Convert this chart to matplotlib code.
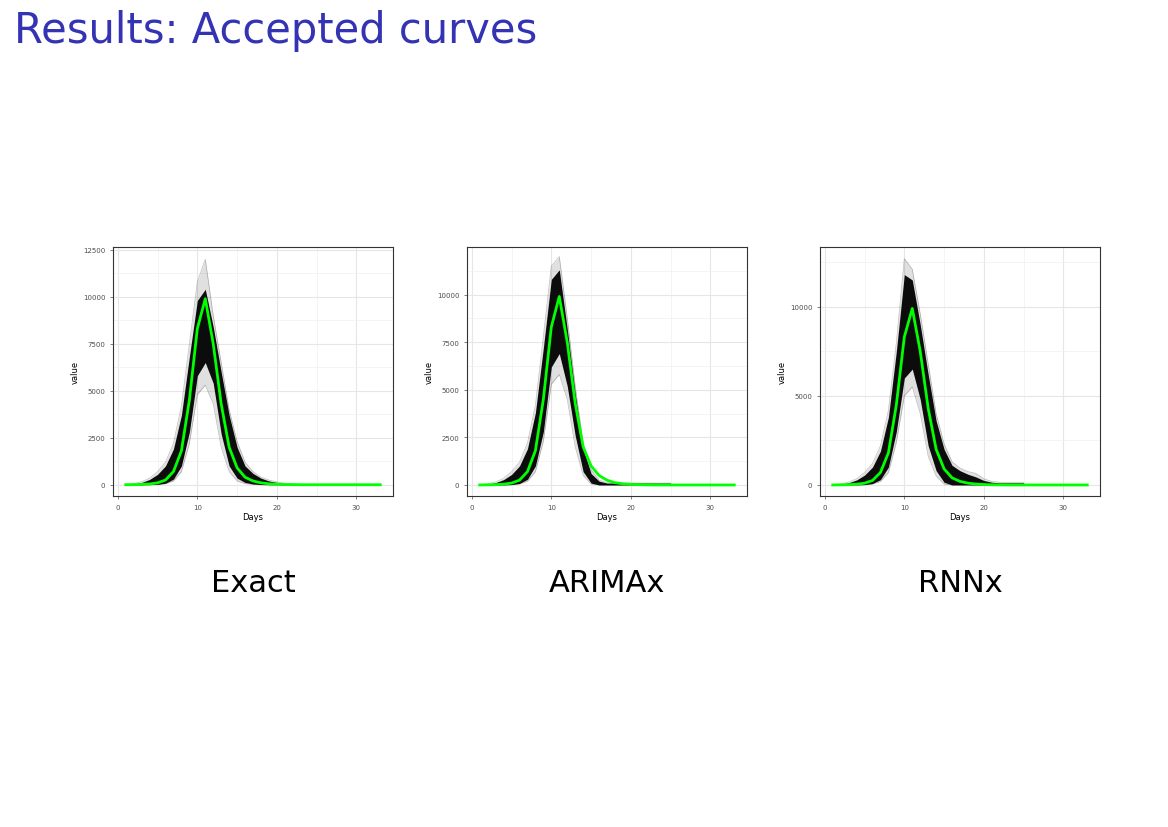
import numpy as np
import matplotlib.pyplot as plt

# day index shared by all curves
days = list(range(1, 34))

# reference (green) curve
green = [0, 5, 15, 40, 100, 250, 700, 1800, 4500, 8300, 9900, 7500, 4300, 2000, 900,
         400, 200, 100, 50, 25, 10, 5, 0, 0, 0, 0, 0, 0, 0, 0, 0, 0, 0]
green_arima = [0, 5, 15, 40, 100, 250, 700, 1800, 4500, 8300, 9900, 7500, 4300, 2000, 1000,
               500, 250, 120, 60, 30, 15, 5, 0, 0, 0, 0, 0, 0, 0, 0, 0, 0, 0]

# accepted-curve envelopes (core band and faint outliers)
exact_days = list(range(1, 26))
exact_lo = [0, 0, 0, 5, 20, 80, 300, 1000, 2800, 5800, 6500, 5400, 2700, 1000, 350,
            120, 40, 10, 0, 0, 0, 0, 0, 0, 0]
exact_hi = [10, 40, 120, 280, 550, 1000, 1900, 3700, 6800, 9800, 10400, 8400, 6000, 3700, 2000,
            1000, 600, 350, 200, 120, 60, 30, 10, 0, 0]
exact_out_lo = [0, 0, 0, 0, 10, 50, 200, 700, 2200, 4800, 5300, 4300, 2000, 700, 200,
                60, 20, 0, 0, 0, 0, 0, 0, 0, 0]
exact_out_hi = [20, 60, 160, 350, 700, 1200, 2200, 4200, 7500, 10800, 12000, 9000, 6500, 4000, 2300,
                1200, 700, 400, 250, 150, 80, 40, 20, 0, 0]

arima_days = list(range(1, 26))
arima_lo = [0, 0, 0, 5, 20, 80, 300, 1000, 2800, 6200, 6900, 5200, 2600, 700, 100,
            0, 0, 0, 0, 0, 0, 0, 0, 0, 0]
arima_hi = [10, 40, 120, 280, 550, 1000, 1900, 3800, 7200, 10800, 11300, 8200, 4800, 1900, 600,
            200, 100, 100, 100, 100, 100, 100, 100, 100, 100]
arima_out_lo = [0, 0, 0, 0, 10, 50, 200, 700, 2300, 5300, 5800, 4500, 2000, 500, 50,
                0, 0, 0, 0, 0, 0, 0, 0, 0, 0]
arima_out_hi = [20, 60, 160, 350, 700, 1200, 2200, 4200, 7800, 11500, 12000, 8800, 5200, 2200, 800,
                250, 120, 100, 100, 100, 100, 100, 100, 100, 100]

rnn_days = list(range(1, 26))
rnn_lo = [0, 0, 0, 5, 20, 80, 300, 1000, 3000, 6000, 6500, 4800, 2200, 800, 150,
          0, 0, 0, 0, 0, 0, 0, 0, 0, 0]
rnn_hi = [10, 40, 120, 280, 550, 1000, 1900, 3800, 7500, 11800, 11500, 9000, 6200, 3600, 2000,
          1100, 800, 600, 450, 250, 150, 120, 120, 120, 120]
rnn_out_lo = [0, 0, 0, 0, 10, 50, 200, 700, 2400, 5000, 5500, 4000, 1600, 500, 50,
              0, 0, 0, 0, 0, 0, 0, 0, 0, 0]
rnn_out_hi = [20, 60, 160, 350, 700, 1200, 2200, 4200, 8000, 12700, 12100, 9600, 6800, 4000, 2300,
              1300, 950, 750, 650, 350, 200, 150, 150, 150, 150]

panels = [
    ("Exact", exact_days, exact_lo, exact_hi, exact_out_lo, exact_out_hi, green,
     [0, 2500, 5000, 7500, 10000, 12500], (-600, 12650)),
    ("ARIMAx", arima_days, arima_lo, arima_hi, arima_out_lo, arima_out_hi, green_arima,
     [0, 2500, 5000, 7500, 10000], (-580, 12500)),
    ("RNNx", rnn_days, rnn_lo, rnn_hi, rnn_out_lo, rnn_out_hi, green,
     [0, 5000, 10000], (-620, 13350)),
]

fig = plt.figure(figsize=(11.68, 8.28), dpi=100)
fig.text(0.012, 0.962, "Results: Accepted curves", color="#3333b3", fontsize=30,
         va="center", ha="left")

lefts = [113, 467, 820]
for (name, d, lo, hi, olo, ohi, g, yt, ylim), left in zip(panels, lefts):
    ax = fig.add_axes([left / 1168, 1 - 497 / 828, 280 / 1168, 249 / 828])
    ax.set_xlim(-0.6, 34.6)
    ax.set_ylim(*ylim)
    ax.set_xticks([0, 10, 20, 30])
    ax.set_xticks([5, 15, 25], minor=True)
    ax.set_yticks(yt)
    step = yt[1] - yt[0]
    ax.set_yticks([v + step / 2 for v in yt if v + step / 2 < ylim[1]], minor=True)
    ax.grid(True, which="major", color="#e6e6e6", lw=0.8)
    ax.grid(True, which="minor", color="#f0f0f0", lw=0.5)
    ax.set_axisbelow(True)
    ax.tick_params(which="major", labelsize=5, colors="#4d4d4d", length=2, width=0.5)
    ax.tick_params(which="minor", length=0)
    for s in ax.spines.values():
        s.set_color("#333333")
        s.set_linewidth(0.8)
    ax.set_xlabel("Days", fontsize=6, labelpad=2)
    ax.set_ylabel("value", fontsize=6, labelpad=2)

    ax.fill_between(d, olo, ohi, color="black", alpha=0.12, lw=0)
    ax.fill_between(d, lo, hi, color="black", alpha=0.95, lw=0)
    ax.plot(d, ohi, color="black", alpha=0.25, lw=0.5)
    ax.plot(d, olo, color="black", alpha=0.25, lw=0.5)
    ax.plot(days, g, color="#00ff00", lw=2)

    fig.text((left + 140) / 1168, 1 - 583 / 828, name, fontsize=22,
             ha="center", va="center")

fig.savefig("out.png", dpi=100)
